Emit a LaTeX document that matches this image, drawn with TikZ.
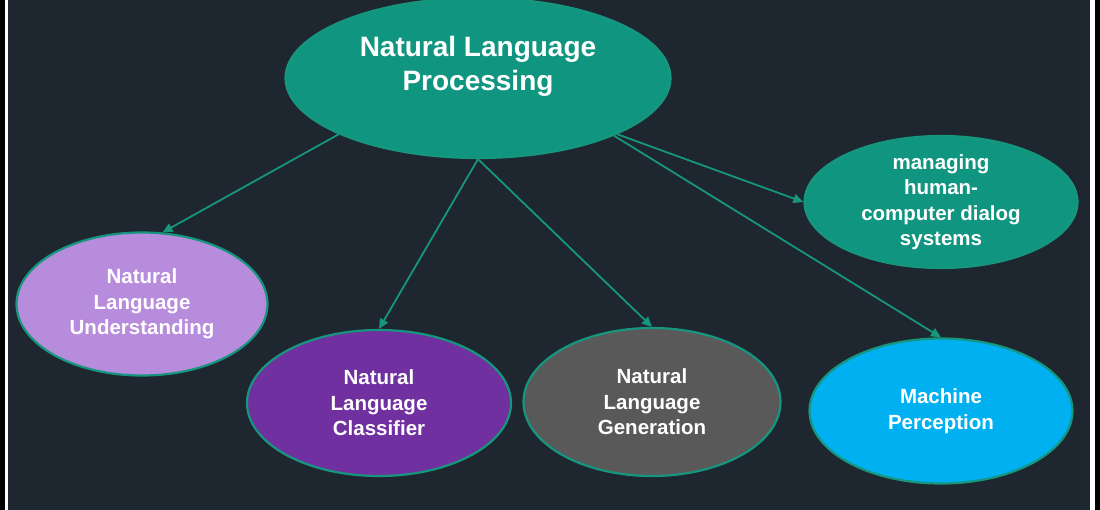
\documentclass[tikz,border=0pt]{standalone}
\usepackage{fontspec}
\setmainfont{Liberation Sans}
\usetikzlibrary{arrows.meta, shapes.geometric}

\definecolor{bgdark}{RGB}{30,38,48}
\definecolor{edgeteal}{RGB}{22,150,126}
\definecolor{nlpteal}{RGB}{16,150,128}
\definecolor{nlulilac}{RGB}{184,140,220}
\definecolor{nlcpurple}{RGB}{112,48,160}
\definecolor{nlggrey}{RGB}{89,89,89}
\definecolor{mpcyan}{RGB}{0,176,240}

\begin{document}
\begin{tikzpicture}[
  x=1pt, y=-1pt,
  bubble/.style={ellipse, draw=edgeteal, line width=2.2pt, text=white,
                 align=center, font=\fontsize{20.5}{25.5}\selectfont\bfseries,
                 inner sep=0pt, inner ysep=-6pt},
  arr/.style={-{Triangle[length=10pt, width=9pt]}, draw=edgeteal,
              line width=1.8pt}
]
% frame and background
\clip (0,0) rectangle (1100,510);
\fill[black] (0,0) rectangle (1100,510);
\fill[white] (5,0) rectangle (1095,510);
\fill[bgdark] (8,0) rectangle (1090,510);

% root
\node[bubble, fill=nlpteal, minimum width=385pt, minimum height=160pt,
      label={[text=white, align=center, yshift=11.5pt,
              font=\fontsize{28}{34}\selectfont\bfseries]center:Natural Language\\Processing}]
      (nlp) at (478,78) {};

% children
\node[bubble, fill=nlulilac, minimum width=251pt, minimum height=143pt]
      (nlu) at (142,304) {Natural\\Language\\Understanding};
\node[bubble, fill=nlcpurple, minimum width=264pt, minimum height=146pt]
      (nlc) at (379,403) {Natural\\Language\\Classifier};
\node[bubble, fill=nlggrey, minimum width=257pt, minimum height=148pt]
      (nlg) at (652,402) {Natural\\Language\\Generation};
\node[bubble, fill=nlpteal, minimum width=273pt, minimum height=132pt]
      (hcd) at (941,202) {managing\\human-\\computer dialog\\systems};
\node[bubble, fill=mpcyan, minimum width=263pt, minimum height=145pt]
      (mp) at (941,411) {Machine\\Perception};

% connectors
\draw[arr] (nlp.202) -- (nlu.74);
\draw[arr] (nlp.south) -- (nlc.north);
\draw[arr] (nlp.south) -- (nlg.north);
\draw[arr] (nlp.338) -- (hcd.west);
\draw[arr] (nlp.337) -- (mp.north);
\end{tikzpicture}
\end{document}
